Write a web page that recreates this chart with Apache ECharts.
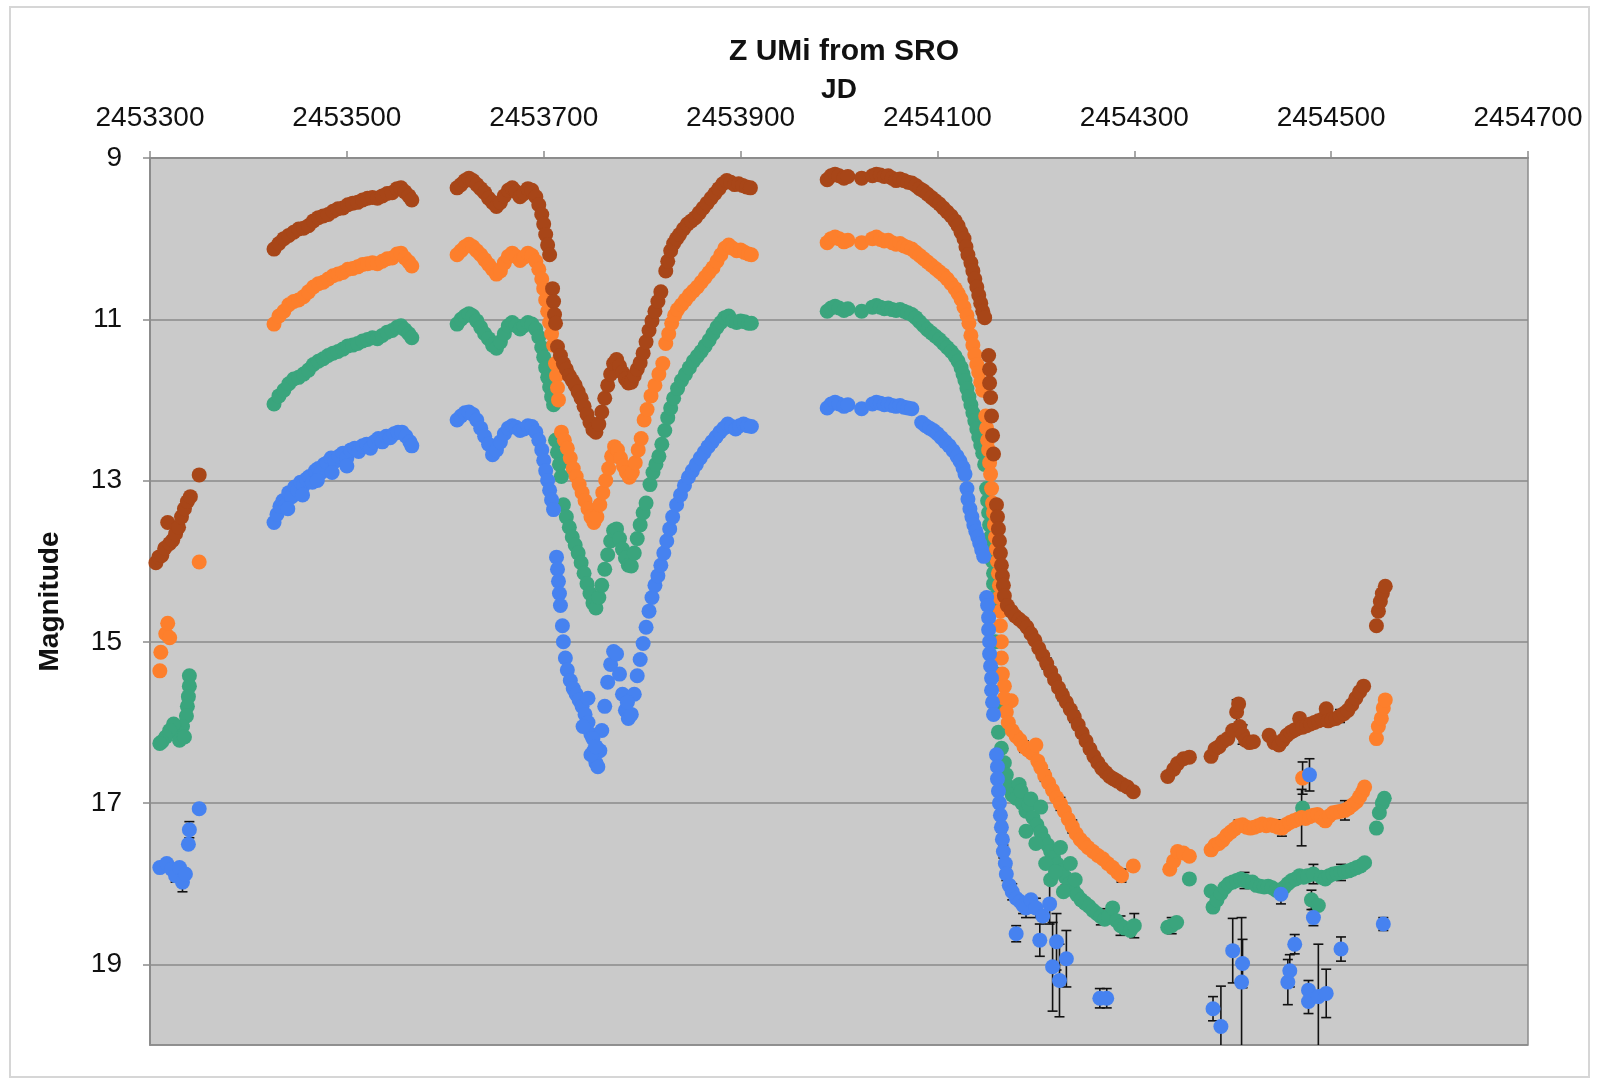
<!DOCTYPE html>
<html>
<head>
<meta charset="utf-8">
<title>Z UMi from SRO</title>
<script src="https://cdn.jsdelivr.net/npm/echarts@6/dist/echarts.min.js"></script>
<style>
  html, body { margin: 0; padding: 0; background: #fff; }
  #chart { width: 1604px; height: 1081px; }
</style>
</head>
<body>
<div id="chart"></div>
<script>
// [JD, magnitude, error] -- error is optional
var brownPts = [
  [2453306,14.02],[2453309,13.95],[2453312,13.93],[2453315,13.84],[2453318,13.52],[2453320,13.78,0.05],[2453323,13.74],
  [2453326,13.66],[2453329,13.58],[2453332,13.45],[2453335,13.35],[2453338,13.26],[2453341,13.2],[2453350,12.93],
  [2453426,10.13],[2453431,10.06],[2453436,10.00],[2453441,9.96],[2453446,9.92],[2453451,9.88],[2453456,9.87],
  [2453461,9.84],[2453466,9.78],[2453471,9.74],[2453476,9.72],[2453481,9.70],[2453486,9.66],[2453491,9.63],
  [2453496,9.62],[2453501,9.58],[2453506,9.56],[2453511,9.55],[2453516,9.52],[2453521,9.50],[2453526,9.49],
  [2453531,9.50],[2453536,9.47],[2453541,9.44],[2453546,9.43],[2453551,9.38],[2453555,9.37],[2453559,9.42],
  [2453563,9.47],[2453566,9.52],
  [2453612,9.37],[2453616,9.33],[2453620,9.28],[2453624,9.25],[2453628,9.28],[2453632,9.33],[2453636,9.38],
  [2453640,9.43],[2453644,9.50],[2453648,9.55],[2453652,9.60],[2453656,9.55],[2453660,9.47],[2453664,9.40],
  [2453668,9.37],[2453672,9.42],[2453676,9.48],[2453680,9.44],[2453684,9.38],[2453688,9.40],[2453692,9.48],
  [2453695,9.58],[2453698,9.70],[2453700,9.82],[2453702,9.95],[2453704,10.08],[2453706,10.20],
  [2453709,10.62],[2453710,10.78],[2453711,10.94],[2453712,11.05],
  [2453714,11.34],[2453717,11.45],[2453720,11.55],[2453723,11.62],[2453726,11.70],[2453729,11.76],[2453732,11.82],
  [2453735,11.90],[2453738,11.98],[2453741,12.08],[2453744,12.18],[2453747,12.28],[2453750,12.37],[2453753,12.40],
  [2453756,12.30],[2453759,12.15],[2453762,11.98],[2453765,11.82],[2453768,11.68],[2453771,11.55],[2453774,11.50],
  [2453777,11.58],[2453780,11.66],[2453783,11.74],[2453786,11.79],[2453789,11.78],[2453792,11.70],[2453795,11.62],
  [2453798,11.54],[2453801,11.42],[2453804,11.28],[2453807,11.14],[2453810,11.02],[2453813,10.90],[2453816,10.78],
  [2453819,10.66],[2453824,10.40],[2453826,10.28],[2453829,10.15],[2453832,10.06],[2453835,10.00],[2453838,9.95],
  [2453842,9.88],[2453846,9.82],[2453850,9.78],[2453854,9.74],[2453858,9.68],[2453862,9.62],[2453866,9.56],
  [2453870,9.50],[2453874,9.44],[2453878,9.38],[2453882,9.32],[2453886,9.28],[2453890,9.30],[2453894,9.33],
  [2453898,9.32],[2453902,9.34],[2453906,9.36],[2453910,9.37],
  [2453988,9.27],[2453992,9.22],[2453996,9.20],[2454000,9.22],[2454005,9.25],[2454009,9.23],[2454023,9.25],
  [2454034,9.22],[2454038,9.20],[2454042,9.21],[2454046,9.23],[2454050,9.22],[2454054,9.25],[2454058,9.28],
  [2454062,9.26],[2454066,9.28],[2454070,9.30],[2454074,9.31],[2454078,9.34],[2454082,9.38],[2454086,9.41],
  [2454090,9.45],[2454094,9.49],[2454098,9.53],[2454102,9.57],[2454106,9.62],[2454110,9.67],[2454114,9.72],
  [2454118,9.78],[2454121,9.84],[2454124,9.92],[2454127,10.00],[2454129,10.10],[2454131,10.20],[2454134,10.30],
  [2454136,10.40],[2454138,10.50],[2454140,10.60],[2454142,10.70],[2454144,10.80],[2454146,10.90],[2454148,10.98],
  [2454152,11.45],[2454153,11.62],[2454153,11.79],[2454154,11.97],[2454155,12.20],[2454156,12.44],[2454157,12.67],
  [2454160,13.30],[2454161,13.45],[2454162,13.60],[2454163,13.75],[2454164,13.90],[2454165,14.05],[2454166,14.18],
  [2454167,14.30],[2454168,14.43],[2454171,14.55],[2454175,14.62],[2454179,14.68],[2454183,14.72],[2454187,14.76],
  [2454191,14.82,0.06],[2454195,14.90],[2454199,14.98],[2454203,15.08],[2454207,15.17],[2454211,15.27,0.07],
  [2454215,15.37],[2454219,15.47],[2454223,15.57],[2454227,15.66,0.07],[2454231,15.75],[2454235,15.84],
  [2454239,15.93,0.07],[2454243,16.03],[2454247,16.13],[2454251,16.23],[2454255,16.33,0.06],[2454259,16.42],
  [2454263,16.50],[2454267,16.57],[2454271,16.62],[2454275,16.67],[2454279,16.70],[2454283,16.73],[2454288,16.77],
  [2454293,16.80],[2454299,16.86],
  [2454334,16.67],[2454340,16.58],[2454344,16.51],[2454350,16.45],[2454356,16.43],[2454378,16.42],[2454382,16.33],
  [2454386,16.30],[2454390,16.24],[2454395,16.20],[2454400,16.10],[2454404,15.87,0.15],[2454406,15.77],
  [2454407,16.05],[2454410,16.15,0.12],[2454413,16.22],[2454417,16.25],[2454421,16.24],[2454437,16.16],
  [2454442,16.25],[2454447,16.28],[2454451,16.22],[2454455,16.16],[2454459,16.12],[2454462,16.10],[2454465,16.08],
  [2454468,15.95],[2454471,16.06],[2454475,16.04],[2454479,16.02],[2454483,16.00],[2454487,15.98],[2454491,15.96],
  [2454495,15.83],[2454497,15.98],[2454501,15.96],[2454505,15.95],[2454509,15.92,0.08],[2454513,15.89],
  [2454517,15.85],[2454521,15.78],[2454525,15.70],[2454529,15.62],[2454533,15.55],
  [2454546,14.80],[2454548,14.62],[2454550,14.50],[2454552,14.40],[2454555,14.31]
];

var orangePts = [
  [2453310,15.36],[2453311,15.13],[2453316,14.90,0.05],[2453318,14.77],[2453320,14.95],[2453350,14.01],
  [2453426,11.06],[2453431,10.96],[2453436,10.90],[2453441,10.82],[2453446,10.78],[2453451,10.76],[2453456,10.72],
  [2453461,10.66],[2453466,10.60],[2453471,10.56],[2453476,10.54],[2453481,10.50],[2453486,10.46],[2453491,10.44],
  [2453496,10.42],[2453501,10.38],[2453506,10.37],[2453511,10.35],[2453516,10.32],[2453521,10.31],[2453526,10.30],
  [2453531,10.31],[2453536,10.28],[2453541,10.25],[2453546,10.24],[2453551,10.19],[2453555,10.18],[2453559,10.24],
  [2453563,10.29],[2453566,10.34],
  [2453612,10.20],[2453616,10.15],[2453620,10.10],[2453624,10.07],[2453628,10.10],[2453632,10.15],[2453636,10.20],
  [2453640,10.26],[2453644,10.32],[2453648,10.38],[2453652,10.44],[2453656,10.40],[2453660,10.30],[2453664,10.22],
  [2453668,10.18],[2453672,10.22],[2453676,10.27],[2453680,10.23],[2453684,10.18],[2453688,10.21],[2453692,10.28],
  [2453695,10.38],[2453698,10.50],[2453700,10.62],[2453702,10.76],[2453704,10.90],[2453706,11.04],[2453708,11.18],
  [2453710,11.32],[2453712,11.55],[2453713,11.70],[2453714,11.85],[2453715,12.00],
  [2453718,12.40],[2453721,12.50],[2453724,12.60],[2453727,12.72],[2453730,12.85],[2453733,12.95],[2453736,13.05],
  [2453739,13.15],[2453742,13.25],[2453745,13.35],[2453748,13.45],[2453751,13.52],[2453754,13.45],[2453757,13.30],
  [2453760,13.15],[2453763,13.00],[2453766,12.85],[2453769,12.70],[2453772,12.58],[2453775,12.62],[2453778,12.72],
  [2453781,12.82],[2453784,12.90],[2453787,12.96],[2453790,12.90],[2453793,12.78],[2453796,12.62],[2453799,12.48],
  [2453802,12.25],[2453805,12.12],[2453809,11.95],[2453813,11.82],[2453817,11.68],[2453821,11.55],[2453824,11.30],
  [2453827,11.18],[2453830,11.05],[2453833,10.95],[2453836,10.88],[2453840,10.82],[2453844,10.76],[2453848,10.70],
  [2453852,10.65],[2453856,10.60],[2453860,10.54],[2453864,10.48],[2453868,10.42],[2453872,10.36],[2453876,10.28],
  [2453880,10.20],[2453884,10.12],[2453888,10.08],[2453892,10.12],[2453896,10.15],[2453900,10.14],[2453904,10.17],
  [2453908,10.19],[2453911,10.20],
  [2453988,10.05],[2453992,10.00],[2453996,9.98],[2454000,10.00],[2454005,10.04],[2454009,10.02],[2454023,10.05],
  [2454034,10.00],[2454038,9.98],[2454042,10.01],[2454046,10.03],[2454050,10.02],[2454054,10.05],[2454058,10.07],
  [2454062,10.06],[2454066,10.09],[2454070,10.11],[2454074,10.13],[2454078,10.17],[2454082,10.21],[2454086,10.25],
  [2454090,10.29],[2454094,10.33],[2454098,10.37],[2454102,10.41],[2454106,10.45],[2454110,10.50],[2454114,10.56],
  [2454118,10.62],[2454121,10.68],[2454124,10.75],[2454127,10.85],[2454130,10.95],[2454132,11.05],[2454134,11.20],
  [2454136,11.32],[2454138,11.44],[2454140,11.56],[2454142,11.66],[2454144,11.78],[2454146,11.88],[2454149,12.20],
  [2454150,12.35],[2454151,12.50],[2454152,12.62],[2454153,12.78],[2454154,12.92],[2454155,13.10],[2454156,13.28],
  [2454157,13.40],[2454158,13.55],[2454159,13.70],[2454160,13.85],[2454161,14.00],[2454162,14.15],[2454163,14.30],
  [2454163,14.45],[2454164,14.62],[2454164,14.80],[2454165,15.00],[2454165,15.20],[2454166,15.40],[2454168,15.55],
  [2454175,15.73],[2454168,15.70],[2454170,15.87],[2454172,16.00],[2454176,16.10],[2454180,16.17],[2454184,16.22],
  [2454188,16.30,0.07],[2454192,16.34],[2454196,16.38],[2454200,16.28],[2454202,16.48],[2454205,16.56],
  [2454209,16.66,0.07],[2454213,16.75],[2454217,16.84],[2454221,16.93],[2454225,17.01,0.08],[2454229,17.10],
  [2454233,17.20],[2454237,17.29,0.08],[2454241,17.38],[2454245,17.45],[2454249,17.50],[2454253,17.55],
  [2454258,17.60],[2454263,17.65],[2454268,17.69],[2454273,17.75],[2454278,17.80],[2454283,17.86],
  [2454287,17.90,0.08],[2454299,17.78],
  [2454336,17.82],[2454340,17.72],[2454344,17.60],[2454350,17.62],[2454356,17.66],[2454378,17.58],[2454382,17.52],
  [2454386,17.50],[2454390,17.46],[2454394,17.40],[2454398,17.36],[2454402,17.32],[2454406,17.28,0.07],
  [2454410,17.27],[2454414,17.30],[2454418,17.31],[2454422,17.30],[2454426,17.28],[2454430,17.26],[2454434,17.28],
  [2454438,17.27],[2454442,17.28],[2454446,17.30],[2454450,17.31,0.1],[2454454,17.27],[2454458,17.24],
  [2454462,17.22],[2454466,17.20],[2454471,16.69,0.2],[2454470,17.18,0.35],[2454474,17.19],[2454478,17.17],
  [2454482,17.15],[2454486,17.14],[2454490,17.18],[2454494,17.22],[2454498,17.16],[2454502,17.12],[2454506,17.11],
  [2454510,17.10],[2454514,17.09,0.12],[2454518,17.06],[2454522,17.02],[2454526,16.98],[2454529,16.92],
  [2454532,16.86],[2454534,16.80],
  [2454546,16.20],[2454548,16.05],[2454551,15.95],[2454553,15.82],[2454555,15.72]
];

var greenPts = [
  [2453340,15.42],[2453340,15.55],[2453339,15.68],[2453338,15.80],[2453337,15.92],[2453333,16.05],[2453328,16.12,0.05],
  [2453324,16.02],[2453320,16.10],[2453316,16.18],[2453312,16.24],[2453310,16.26,0.05],[2453330,16.22],[2453335,16.18],
  [2453426,12.05],[2453431,11.95],[2453436,11.88],[2453441,11.80],[2453446,11.74],[2453451,11.72],[2453456,11.68],
  [2453461,11.63],[2453466,11.56],[2453471,11.52],[2453476,11.49],[2453481,11.45],[2453486,11.42],[2453491,11.40],
  [2453496,11.37],[2453501,11.33],[2453506,11.32],[2453511,11.30],[2453516,11.27],[2453521,11.25],[2453526,11.23],
  [2453531,11.24],[2453536,11.20],[2453541,11.16],[2453546,11.14],[2453551,11.10],[2453555,11.08],[2453559,11.13],
  [2453563,11.18],[2453566,11.23],
  [2453612,11.06],[2453616,11.00],[2453620,10.96],[2453624,10.93],[2453628,10.96],[2453632,11.02],[2453636,11.10],
  [2453640,11.18],[2453644,11.24],[2453648,11.32],[2453652,11.36],[2453656,11.28],[2453660,11.18],[2453664,11.08],
  [2453668,11.04],[2453672,11.08],[2453676,11.12],[2453680,11.08],[2453684,11.04],[2453688,11.06],[2453692,11.12],
  [2453695,11.22],[2453698,11.35],[2453700,11.47],[2453702,11.60],[2453704,11.72],[2453706,11.84],[2453708,11.96],
  [2453710,12.06],[2453712,12.50],[2453714,12.65],[2453716,12.80],[2453718,12.95],
  [2453720,13.30],[2453723,13.45],[2453726,13.58],[2453729,13.70],[2453732,13.80],[2453735,13.90],[2453738,14.02],
  [2453741,14.15],[2453744,14.28],[2453747,14.40],[2453750,14.52],[2453753,14.58],[2453756,14.45],[2453759,14.30],
  [2453762,14.10],[2453765,13.92],[2453768,13.75],[2453771,13.62],[2453774,13.60],[2453777,13.72],[2453780,13.85],
  [2453783,13.96],[2453786,14.05],[2453789,14.06],[2453792,13.90],[2453795,13.72],[2453798,13.55],[2453801,13.40],
  [2453804,13.28],[2453808,13.05],[2453811,12.90],[2453814,12.80],[2453817,12.70],[2453820,12.55],[2453823,12.38],
  [2453826,12.22],[2453829,12.10],[2453832,11.98],[2453836,11.86],[2453840,11.76],[2453844,11.68],[2453848,11.60],
  [2453852,11.52],[2453856,11.46],[2453860,11.40],[2453864,11.33],[2453868,11.26],[2453872,11.18],[2453876,11.10],
  [2453880,11.04],[2453884,10.98],[2453888,10.96],[2453892,11.02],[2453896,11.04],[2453900,11.02],[2453904,11.03],
  [2453908,11.05],[2453911,11.05],
  [2453988,10.90],[2453992,10.86],[2453996,10.84],[2454000,10.86],[2454005,10.89],[2454009,10.87],[2454023,10.90],
  [2454034,10.85],[2454038,10.83],[2454042,10.85],[2454046,10.87],[2454050,10.86],[2454054,10.88],[2454058,10.89],
  [2454062,10.88],[2454066,10.90],[2454070,10.92],[2454074,10.94],[2454078,10.98],[2454082,11.03],[2454086,11.08],
  [2454090,11.13],[2454094,11.17],[2454098,11.21],[2454102,11.25],[2454106,11.30],[2454110,11.35],[2454114,11.40],
  [2454118,11.46],[2454121,11.52],[2454124,11.60],[2454126,11.68],[2454128,11.76],[2454130,11.86],[2454132,11.96],
  [2454134,12.06],[2454136,12.16],[2454138,12.26],[2454140,12.36],[2454142,12.46],[2454144,12.56],[2454146,12.66],
  [2454148,12.80],[2454150,13.10],[2454151,13.25],[2454152,13.40],[2454153,13.55],[2454154,13.70],[2454155,13.85],
  [2454156,14.00],[2454157,14.15],[2454157,14.28],[2454158,14.45],[2454159,14.60],[2454159,15.00],[2454160,15.40],
  [2454161,15.80],[2454162,16.12],[2454165,16.32],[2454168,16.50],[2454170,16.65],[2454173,16.80],[2454176,16.90],
  [2454180,16.94],[2454183,16.77],[2454186,17.00],[2454190,17.10],[2454193,17.02],[2454197,17.18],[2454201,17.27],
  [2454205,17.36],[2454208,17.45],[2454212,17.52],[2454215,17.60],[2454218,17.68],[2454222,17.76],[2454226,17.84],
  [2454230,17.92,0.1],[2454234,18.00],[2454238,18.08],[2454242,18.14],[2454246,18.20],[2454250,18.24],
  [2454254,18.28],[2454258,18.33],[2454262,18.37],[2454266,18.41,0.1],[2454270,18.44],[2454274,18.40],
  [2454278,18.30],[2454282,18.46],[2454286,18.52,0.12],[2454290,18.55],[2454296,18.58],[2454300,18.52,0.15],
  [2454185,16.85],[2454190,17.35],[2454195,16.95],[2454200,17.50],[2454205,17.05],[2454210,17.75],[2454215,17.95],
  [2454220,17.85],[2454225,17.55],[2454228,18.10],[2454235,17.75],[2454240,17.95],
  [2454334,18.54],[2454338,18.52,0.1],[2454343,18.48],[2454356,17.94],[2454378,18.09],[2454380,18.29],
  [2454384,18.20],[2454388,18.12],[2454392,18.05],[2454396,18.00],[2454400,17.98],[2454404,17.96],[2454408,17.94],
  [2454412,17.96,0.1],[2454416,17.98],[2454420,17.98],[2454424,18.02],[2454428,18.03],[2454432,18.04],
  [2454436,18.03],[2454440,18.05],[2454444,18.08],[2454448,18.10],[2454452,18.05],[2454456,18.00],[2454460,17.96],
  [2454464,17.94],[2454468,17.90],[2454471,17.06],[2454472,17.92],[2454476,17.90],[2454480,18.20,0.12],
  [2454482,17.88,0.12],[2454487,18.27],[2454490,17.92],[2454494,17.94],[2454498,17.90],[2454502,17.88],
  [2454506,17.87],[2454510,17.86,0.1],[2454514,17.85],[2454518,17.84],[2454522,17.82],[2454526,17.80],
  [2454530,17.78],[2454534,17.74],
  [2454546,17.31],[2454549,17.12],[2454552,17.00],[2454554,16.94]
];

var bluePts = [
  [2453310,17.80],[2453317,17.75],[2453322,17.82],[2453326,17.90,0.08],[2453330,17.80],[2453333,17.98,0.12],
  [2453336,17.88],[2453339,17.51],[2453340,17.33,0.1],[2453350,17.07],
  [2453426,13.52],[2453429,13.42],[2453432,13.32],[2453435,13.25],[2453438,13.30],[2453441,13.15],[2453444,13.20],
  [2453447,13.08],[2453450,13.12],[2453453,13.02],[2453456,13.06],[2453459,12.98],[2453462,12.95],[2453465,13.02],
  [2453468,12.88],[2453471,12.85],[2453474,12.90],[2453477,12.80],[2453480,12.78],[2453484,12.72],[2453488,12.76],
  [2453492,12.70],[2453496,12.66],[2453500,12.72],[2453504,12.62],[2453508,12.60],[2453512,12.64],[2453516,12.57],
  [2453520,12.55],[2453524,12.60],[2453528,12.52],[2453532,12.48],[2453536,12.52],[2453540,12.45],[2453544,12.47],
  [2453548,12.42],[2453552,12.40],[2453556,12.40],[2453560,12.45],[2453564,12.52],[2453566,12.57],
  [2453440,13.35],[2453455,13.18],[2453470,13.00],[2453485,12.90],[2453500,12.82],
  [2453612,12.25],[2453616,12.20],[2453620,12.16],[2453624,12.15],[2453628,12.18],[2453632,12.25],[2453636,12.35],
  [2453640,12.45],[2453644,12.55],[2453648,12.68],[2453652,12.62],[2453656,12.52],[2453660,12.42],[2453664,12.35],
  [2453668,12.32],[2453672,12.34],[2453676,12.38],[2453680,12.36],[2453684,12.32],[2453688,12.33],[2453692,12.40],
  [2453695,12.50],[2453698,12.62],[2453700,12.75],[2453702,12.88],[2453704,13.00],[2453706,13.12],[2453708,13.24],
  [2453710,13.36],[2453713,13.95],[2453714,14.10],[2453715,14.25],[2453716,14.40],[2453717,14.55],
  [2453719,14.80],[2453720,15.00],[2453722,15.20],[2453724,15.35],[2453727,15.48],[2453730,15.58],[2453733,15.65],
  [2453736,15.72],[2453739,15.80],[2453742,15.90],[2453745,16.00],[2453748,16.15],[2453751,16.35],[2453753,16.50],
  [2453755,16.55],[2453757,16.35],[2453759,16.10],[2453762,15.80],[2453765,15.50],[2453768,15.28],[2453771,15.12],
  [2453774,15.15],[2453777,15.40],[2453780,15.65],[2453783,15.85],[2453786,15.95],[2453789,15.90],[2453792,15.65],
  [2453795,15.42],[2453798,15.22],[2453801,15.02],[2453804,14.82],[2453807,14.62],[2453810,14.45],[2453813,14.30],
  [2453816,14.18],[2453819,14.05],[2453822,13.90],[2453825,13.75],[2453828,13.60],[2453831,13.45],[2453835,13.30],
  [2453839,13.18],[2453843,13.06],[2453847,12.96],[2453851,12.88],[2453855,12.80],[2453859,12.72],[2453863,12.65],
  [2453867,12.58],[2453871,12.52],[2453875,12.46],[2453879,12.40],[2453883,12.35],[2453887,12.30],[2453891,12.33],
  [2453895,12.36],[2453899,12.32],[2453903,12.30],[2453907,12.32],[2453911,12.33],
  [2453740,16.05],[2453745,15.70],[2453748,16.40],[2453750,16.20],[2453753,16.30],[2453785,15.75],
  [2453988,12.10],[2453992,12.05],[2453996,12.03],[2454000,12.05],[2454005,12.08],[2454009,12.06],[2454023,12.11],
  [2454034,12.05],[2454038,12.03],[2454042,12.04],[2454046,12.06],[2454050,12.05],[2454054,12.07],[2454058,12.08],
  [2454062,12.07],[2454066,12.09],[2454070,12.10],[2454074,12.11],
  [2454084,12.28],[2454088,12.32],[2454092,12.35],[2454096,12.38],[2454100,12.42],[2454104,12.47],[2454108,12.52],
  [2454112,12.57],[2454116,12.63],[2454120,12.70],[2454123,12.76],[2454126,12.84],[2454128,12.92],[2454130,13.10],
  [2454131,13.23],[2454133,13.35],[2454135,13.45],[2454137,13.55],[2454139,13.63],[2454141,13.70],[2454143,13.78],
  [2454145,13.86],[2454147,13.94],[2454150,14.45],[2454151,14.55],[2454152,14.70],[2454152,14.85],[2454153,15.00],
  [2454153,15.15],[2454154,15.30],[2454155,15.45],[2454155,15.60],[2454156,15.75],[2454157,15.90],[2454160,16.40],
  [2454161,16.55],[2454161,16.70],[2454162,16.85],[2454163,17.00],[2454164,17.15],[2454165,17.30,0.06],
  [2454166,17.45],[2454167,17.60,0.08],[2454169,17.75],[2454170,17.88,0.08],[2454173,18.02],[2454176,18.10,0.1],
  [2454180,18.18],[2454180,18.62,0.1],[2454184,18.22],[2454187,18.27,0.1],[2454190,18.30,0.12],[2454195,18.20],
  [2454200,18.30,0.12],[2454204,18.70,0.2],[2454207,18.40],[2454214,18.25,0.25],[2454217,19.03,0.55],
  [2454221,18.72,0.35],[2454224,19.20,0.45],[2454231,18.93,0.35],[2454265,19.42,0.12],[2454272,19.42,0.12],
  [2454380,19.55,0.15],[2454388,19.77,0.5],[2454400,18.83,0.4],[2454409,19.22,0.8],[2454410,18.99,0.3],
  [2454449,18.13,0.12],[2454456,19.22,0.28],[2454458,19.08,0.2],[2454463,18.75,0.12],[2454477,19.32,0.12],
  [2454477,19.46,0.15],[2454478,16.65,0.2],[2454482,18.42,0.1],[2454487,19.40,0.65],[2454495,19.36,0.3],
  [2454510,18.81,0.15],[2454553,18.50,0.08]
];

var seriesNames = ['Green', 'Orange', 'Brown', 'Blue'];
var seriesColors = ['#3aa57d', '#fd7f2c', '#a84618', '#4682f0'];
var seriesPts = [greenPts, orangePts, brownPts, bluePts];

var errPts = [];
seriesPts.forEach(function (pts) {
  pts.forEach(function (p) {
    if (p[2]) errPts.push(p);
  });
});

var FONT = '"Liberation Sans", Arial, Helvetica, sans-serif';

var chart = echarts.init(document.getElementById('chart'));

var series = [{
  type: 'custom',
  name: 'err',
  clip: true,
  z: 1,
  data: errPts,
  renderItem: function (params, api) {
    var x = api.value(0), y = api.value(1), e = api.value(2);
    var p1 = api.coord([x, y - e]);
    var p2 = api.coord([x, y + e]);
    var hw = 5;
    var st = { stroke: '#111', lineWidth: 1.6 };
    return {
      type: 'group',
      children: [
        { type: 'line', shape: { x1: p1[0], y1: p1[1], x2: p2[0], y2: p2[1] }, style: st },
        { type: 'line', shape: { x1: p1[0] - hw, y1: p1[1], x2: p1[0] + hw, y2: p1[1] }, style: st },
        { type: 'line', shape: { x1: p2[0] - hw, y1: p2[1], x2: p2[0] + hw, y2: p2[1] }, style: st }
      ]
    };
  }
}];

seriesPts.forEach(function (pts, i) {
  series.push({
    type: 'scatter',
    name: seriesNames[i],
    data: pts,
    z: 2 + i,
    symbol: 'circle',
    symbolSize: 15,
    encode: { x: 0, y: 1 },
    itemStyle: { color: seriesColors[i], opacity: 1 }
  });
});

chart.setOption({
  animation: false,
  backgroundColor: '#fff',
  title: {
    text: 'Z UMi from SRO',
    left: 839,
    textAlign: 'center',
    top: 32,
    textStyle: { fontFamily: FONT, fontSize: 30, fontWeight: 'bold', color: '#111' }
  },
  graphic: [{
    type: 'rect',
    shape: { x: 10, y: 7, width: 1579, height: 1070 },
    style: { fill: 'none', stroke: '#d6d6d6', lineWidth: 2 },
    silent: true
  }],
  grid: {
    left: 150,
    right: 76,
    top: 158,
    bottom: 36,
    show: true,
    backgroundColor: '#cacaca',
    borderColor: '#8c8c8c',
    borderWidth: 1.5
  },
  xAxis: {
    type: 'value',
    position: 'top',
    min: 2453300,
    max: 2454700,
    interval: 200,
    name: 'JD',
    nameLocation: 'middle',
    nameGap: 54,
    nameMoveOverlap: false,
    nameTextStyle: { fontFamily: FONT, fontSize: 28, fontWeight: 'bold', color: '#111' },
    axisLine: { show: true, lineStyle: { color: '#8c8c8c', width: 2 } },
    axisTick: { show: true, inside: false, length: 7, lineStyle: { color: '#8c8c8c', width: 1.5 } },
    axisLabel: {
      fontFamily: FONT, fontSize: 28, color: '#111', margin: 26,
      formatter: function (v) { return String(v); }
    },
    splitLine: { show: false }
  },
  yAxis: {
    type: 'value',
    inverse: true,
    min: 9,
    max: 20,
    interval: 2,
    name: 'Magnitude',
    nameLocation: 'middle',
    nameGap: 86,
    nameRotate: 90,
    nameTextStyle: { fontFamily: FONT, fontSize: 28, fontWeight: 'bold', color: '#111' },
    axisLine: { show: true, lineStyle: { color: '#8c8c8c', width: 2 } },
    axisTick: { show: true, inside: false, length: 7, lineStyle: { color: '#8c8c8c', width: 1.5 } },
    axisLabel: { fontFamily: FONT, fontSize: 28, color: '#111', margin: 28, showMaxLabel: false },
    splitLine: { show: true, lineStyle: { color: '#8a8a8a', width: 1.5 } }
  },
  series: series
});
</script>
</body>
</html>
